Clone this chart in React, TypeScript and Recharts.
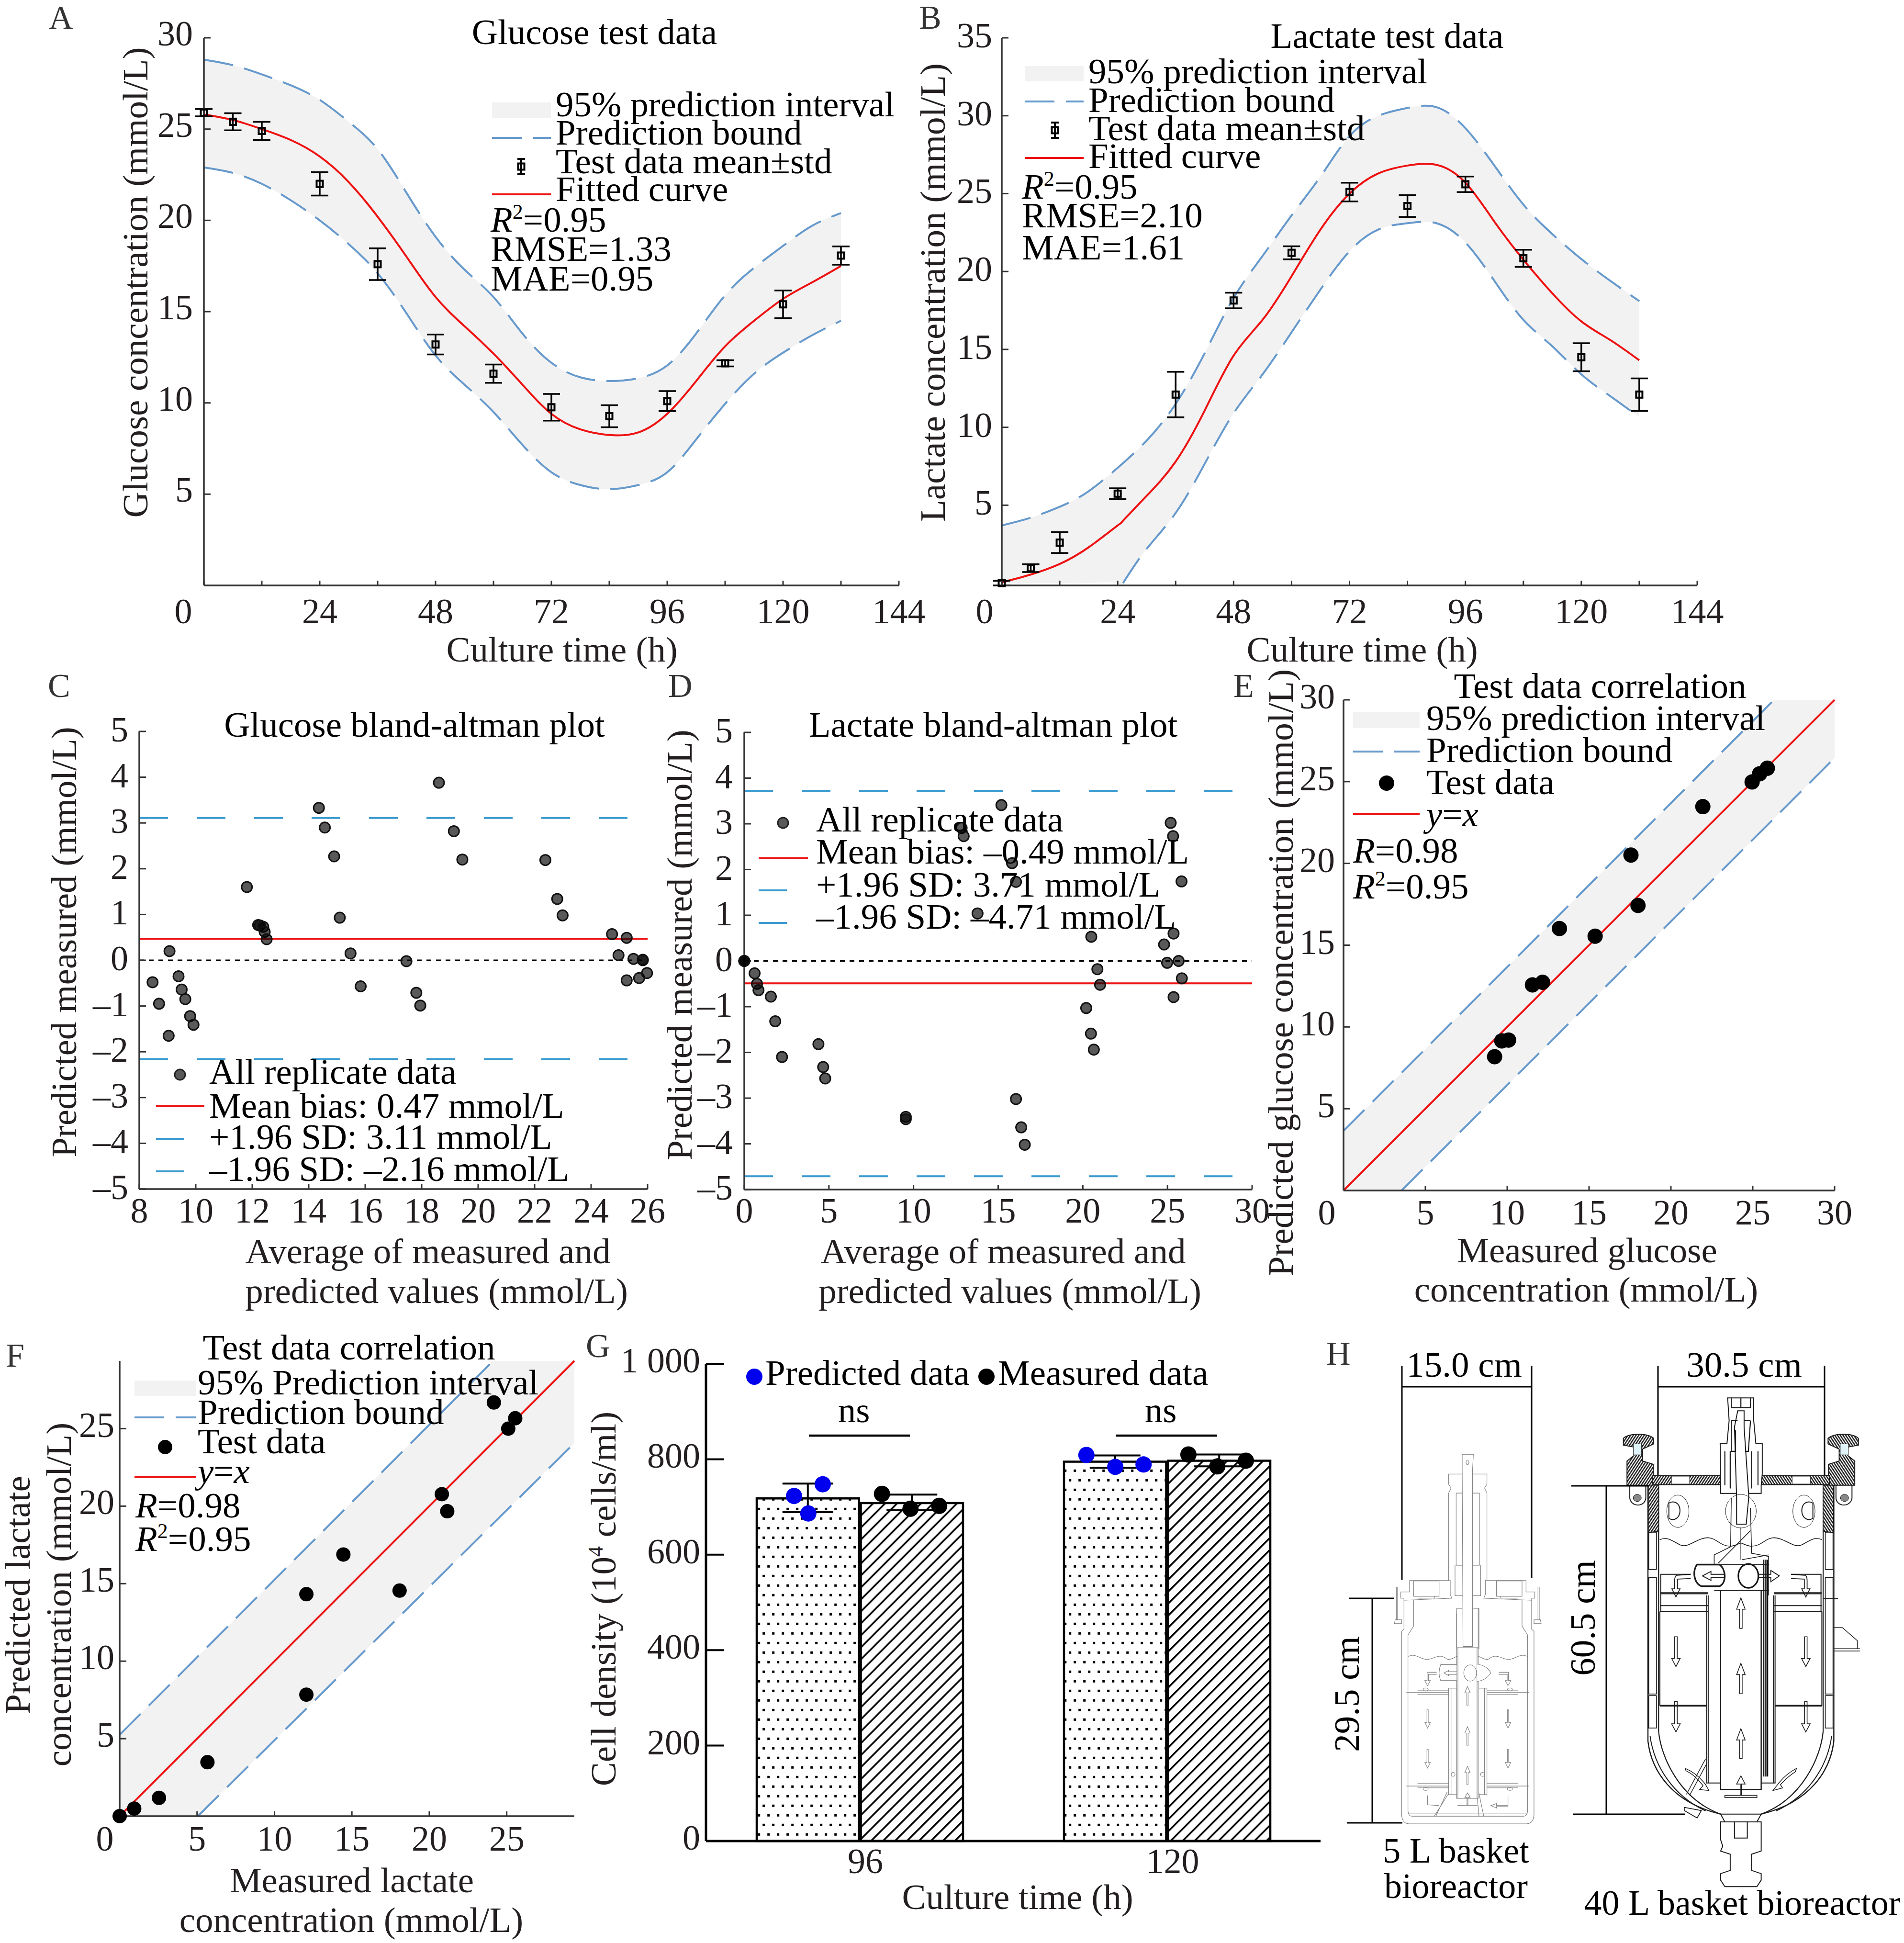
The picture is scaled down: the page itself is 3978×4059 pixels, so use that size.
import React from 'react';
import { ComposedChart, XAxis, YAxis, Area, Line, Scatter, Bar, ErrorBar, ReferenceLine } from 'recharts';

const FONT = '"Liberation Serif", "Times New Roman", serif';
const INK = '#231f20';
const BLUE = '#6699cc';
const CYAN = '#3b9bd0';
const RED = '#ee1111';
const BAND = '#f2f2f2';

/* ---------- A: glucose curve ---------- */
const curveTimes = [0, 6, 12, 18, 24, 30, 36, 42, 48, 54, 60, 66, 72, 78, 84, 90, 96, 102, 108, 114, 120, 126, 132];
const glucoseFit = [25.8, 25.5, 25.0, 24.4, 23.5, 22.1, 20.2, 18, 15.8, 14.2, 12.7, 11, 9.4, 8.55, 8.24, 8.38, 9.4, 11.2, 13.1, 14.5, 15.7, 16.6, 17.5];
const glucoseUpper = [28.8, 28.5, 28.0, 27.4, 26.6, 25.4, 23.9, 21.5, 19.1, 17.3, 15.8, 13.8, 12.2, 11.4, 11.2, 11.35, 12.05, 13.8, 15.9, 17.4, 18.6, 19.7, 20.4];
const glucoseLower = [22.9, 22.6, 22.0, 21.1, 20.0, 18.7, 17.1, 14.9, 12.6, 11, 9.5, 7.7, 6.2, 5.5, 5.27, 5.5, 6.2, 8, 9.95, 11.6, 12.75, 13.7, 14.5];
const sampleTimes = [0, 6, 12, 24, 36, 48, 60, 72, 84, 96, 108, 120, 132];
const glucoseMean = [25.9, 25.4, 24.9, 22.0, 17.6, 13.2, 11.6, 9.76, 9.27, 10.1, 12.17, 15.4, 18.07];
const glucoseStd = [0.2, 0.47, 0.5, 0.64, 0.87, 0.55, 0.5, 0.73, 0.6, 0.55, 0.17, 0.76, 0.5];

/* ---------- B: lactate curve ---------- */
const lactateTimes = [0, 6, 12, 18, 24, 25.1, 30, 36, 42, 48, 54, 60, 66, 72, 78, 84, 90, 96, 102, 108, 114, 120, 126, 132];
const lactateFit = [0.05, 0.55, 1.23, 2.3, 3.7, 4, 5.6, 7.8, 11.07, 14.6, 16.9, 19.7, 22.7, 25, 26.3, 26.8, 26.85, 25.7, 23.2, 20.76, 18.6, 16.8, 15.6, 14.3];
const lactateUpper = [3.7, 4.2, 4.9, 5.9, 7.4, 7.7, 9.15, 11.5, 14.75, 18.3, 21, 23.6, 26.1, 28.7, 30, 30.5, 30.55, 29.2, 26.8, 24.3, 22.4, 20.8, 19.4, 18.1];
const lactateLower = [null, null, null, null, null, 0, 2.2, 4.5, 7.65, 10.9, 13.4, 16.1, 18.85, 21.3, 22.7, 23.1, 23.1, 21.86, 19.4, 16.9, 15.2, 13.4, 12, 10.65];
const lactateMean = [0, 0.96, 2.6, 5.74, 12.1, 18.14, 21.2, 25.1, 24.2, 25.6, 20.85, 14.5, 12.1];
const lactateStd = [0.15, 0.25, 0.67, 0.35, 1.46, 0.5, 0.42, 0.6, 0.7, 0.5, 0.55, 0.9, 1.04];

/* ---------- C: glucose Bland-Altman ---------- */
const baGlucoseAvg = [8.47, 8.7, 9.04, 9.07, 9.39, 9.5, 9.63, 9.8, 9.92, 11.81, 12.21, 12.27, 12.39, 12.44, 12.51, 14.36, 14.57, 14.9, 15.1, 15.48, 15.84, 17.46, 17.81, 17.95, 18.61, 19.14, 19.44, 22.38, 22.8, 22.99, 24.74, 24.97, 25.26, 25.26, 25.5, 25.7, 25.83, 25.83, 25.98];
const baGlucoseDiff = [-0.48, -0.95, -1.65, 0.2, -0.35, -0.64, -0.85, -1.22, -1.41, 1.6, 0.77, 0.76, 0.73, 0.62, 0.46, 3.33, 2.9, 2.27, 0.93, 0.15, -0.57, -0.02, -0.71, -0.99, 3.88, 2.82, 2.2, 2.19, 1.34, 0.98, 0.57, 0.11, 0.49, -0.44, 0.03, -0.39, 0.01, 0, -0.28];
const baGlucoseLines = { mean: 0.47, upper: 3.11, lower: -2.16 };

/* ---------- D: lactate Bland-Altman ---------- */
const baLactateAvg = [0, 0, 0, 0.61, 0.75, 0.84, 1.57, 1.83, 2.23, 4.38, 4.66, 4.78, 9.54, 9.54, 12.84, 12.96, 13.78, 15.19, 15.82, 16.05, 16.05, 16.36, 16.57, 20.2, 20.5, 20.48, 20.65, 20.86, 21.02, 24.8, 24.98, 25.19, 25.33, 25.36, 25.36, 25.66, 25.83, 25.85];
const baLactateDiff = [0, 0, 0, -0.27, -0.5, -0.64, -0.78, -1.32, -2.1, -1.82, -2.32, -2.57, -3.41, -3.46, 2.91, 2.73, 1.04, 3.41, 2.14, 1.73, -3.02, -3.64, -4.02, -1.03, 0.53, -1.59, -1.94, -0.18, -0.52, 0.36, -0.04, 3.02, 2.73, 0.6, -0.79, 0, 1.74, -0.38];
const baLactateLines = { mean: -0.49, upper: 3.72, lower: -4.71 };

/* ---------- E and F: correlation ---------- */
const corrGlucoseX = [9.23, 9.67, 10.08, 11.54, 12.16, 13.19, 15.37, 17.56, 17.99, 21.95, 24.96, 25.42, 25.89];
const corrGlucoseY = [8.18, 9.15, 9.2, 12.57, 12.73, 16.02, 15.55, 20.51, 17.43, 23.47, 24.98, 25.48, 25.82];
const corrGlucoseGridX = [0, 3.55, 26.3, 30];
const corrGlucoseLo = [0, 0, 22.75, 26.45];
const corrGlucoseHi = [3.65, 7.2, 30, 30];
const corrGlucoseUpperBound = [3.65, 7.2, 30, null];
const corrGlucoseLowerBound = [null, 0, 22.75, 26.45];

const corrLactateX = [0, 0.94, 2.54, 5.67, 12.06, 12.06, 14.45, 18.08, 20.81, 21.16, 24.17, 25.1, 25.55];
const corrLactateY = [0, 0.49, 1.18, 3.48, 14.32, 7.84, 16.88, 14.55, 20.77, 19.67, 26.69, 25, 25.67];
const corrLactateGridX = [0, 5.05, 24.1, 29.37];
const corrLactateLo = [0, 0, 18.85, 24.07];
const corrLactateHi = [5.25, 10.3, 29.37, 29.37];
const corrLactateUpperBound = [5.25, 10.3, 29.35, null];
const corrLactateLowerBound = [null, 0, 18.85, 24.07];

/* ---------- G: bars ---------- */
const barTimes = ['96', '120'];
const barPredicted = [718, 795];
const barMeasured = [708, 797];
const barPredictedErr = [[29, 31], [13, 13]];
const barMeasuredErr = [[15, 18], [12, 13]];
const dotPredictedPos = [0.2866, 0.38, 0.333, 1.238, 1.332, 1.424];
const dotPredictedVal = [723, 747.6, 686.4, 809, 784, 789];
const dotMeasuredPos = [0.5727, 0.6656, 0.759, 1.57, 1.664, 1.757];
const dotMeasuredVal = [727.5, 696.3, 702.4, 810, 785, 797];

/* ---------- helpers ---------- */
const LEFT = 200;
const TOP = 40;
const RIGHT = 60;
const BOTTOM = 130;
const TICK_SIZE = 74;
const TEXT_SIZE = 75;

const rows = (xs: any[], cols: Record<string, any[]>) =>
  xs.map((x, i) => {
    const r: any = { x };
    Object.keys(cols).forEach((k) => (r[k] = cols[k][i]));
    return r;
  });

const makeXTick = (baseline: number, labelled: number[] | null, zeroShift = 0, dx = 0, size = TICK_SIZE) => (p: any) => {
  const v = p.payload.value;
  if (labelled && !labelled.includes(v)) return <g />;
  return (
    <text x={p.x + dx + (v === 0 ? zeroShift : 0)} y={baseline} textAnchor="middle" fontFamily={FONT} fontSize={size} fill={INK}>
      {v}
    </text>
  );
};

const makeYTick = (right: number, dy: number, fmt?: (v: number) => string, size = TICK_SIZE) => (p: any) => {
  const v = p.payload.value;
  return (
    <text x={right} y={p.y + dy} textAnchor="end" fontFamily={FONT} fontSize={size} fill={INK}>
      {fmt ? fmt(v) : String(v).replace('-', '\u2013')}
    </text>
  );
};

type G = { px: number; py: number; pw: number; ph: number };

const Frame = ({ g, children, data }: { g: G; children: any; data?: any[] }) => (
  <div style={{ position: 'absolute', left: g.px - LEFT, top: g.py - TOP }}>
    <ComposedChart
      width={g.pw + LEFT + RIGHT}
      height={g.ph + TOP + BOTTOM}
      data={data}
      margin={{ top: TOP, left: 0, right: RIGHT, bottom: 0 }}
      style={{ overflow: 'visible' }}
    >
      {children}
    </ComposedChart>
  </div>
);

const axisLine = { stroke: '#333', strokeWidth: 3.5 };
const tickLine = { stroke: '#333', strokeWidth: 3 };

const squareMark = (p: any) => (
  <rect x={p.cx - 6.5} y={p.cy - 6.5} width={13} height={13} fill="none" stroke="#000" strokeWidth={4} />
);

const T = ({ x, y, children, a = 'start', s = TEXT_SIZE, rot, c = '#000' }: any) => (
  <text
    x={x}
    y={y}
    textAnchor={a}
    fontSize={s}
    fontFamily={FONT}
    fill={c}
    transform={rot ? `rotate(${rot} ${x} ${y})` : undefined}
  >
    {children}
  </text>
);

const R2 = ({ x, y, v }: any) => (
  <T x={x} y={y}>
    <tspan fontStyle="italic">R</tspan>
    <tspan dy={-27} fontSize={44}>2</tspan>
    <tspan dy={27}>={v}</tspan>
  </T>
);

const Patch = ({ x, y, w, h }: any) => <rect x={x} y={y} width={w} height={h} fill={BAND} />;
const BoundKey = ({ x, y, w }: any) => (
  <line x1={x} x2={x + w} y1={y} y2={y} stroke={BLUE} strokeWidth={4} strokeDasharray="62 24" />
);
const RedKey = ({ x, y, w }: any) => <line x1={x} x2={x + w} y1={y} y2={y} stroke={RED} strokeWidth={4} />;
const CyanKey = ({ x, y, w }: any) => <line x1={x} x2={x + w} y1={y} y2={y} stroke={CYAN} strokeWidth={4} />;
const MeanKey = ({ x, y }: any) => (
  <g stroke="#000" strokeWidth={4} fill="none">
    <rect x={x - 6.5} y={y - 6.5} width={13} height={13} />
    <line x1={x} x2={x} y1={y - 16} y2={y + 16} />
    <line x1={x - 8} x2={x + 8} y1={y - 16} y2={y - 16} />
    <line x1={x - 8} x2={x + 8} y1={y + 16} y2={y + 16} />
  </g>
);
const DotKey = ({ x, y, r = 11 }: any) => <circle cx={x} cy={y} r={r} fill="#595959" stroke="#222" strokeWidth={3} />;

/* ---------- curve panel ---------- */
const CurvePanel = ({ g, data, mean, std, yMax, yTicks, right, dy, base, zero }: any) => (
  <Frame g={g} data={data}>
    <XAxis
      dataKey="x"
      type="number"
      domain={[0, 144]}
      ticks={[0, 12, 24, 36, 48, 60, 72, 84, 96, 108, 120, 132, 144]}
      interval={0}
      height={BOTTOM}
      axisLine={axisLine}
      tickLine={tickLine}
      tickSize={-10}
      tick={makeXTick(TOP + g.ph + base, [0, 24, 48, 72, 96, 120, 144], zero)}
    />
    <YAxis
      type="number"
      domain={[0, yMax]}
      ticks={yTicks}
      interval={0}
      width={LEFT}
      axisLine={axisLine}
      tickLine={tickLine}
      tickSize={-14}
      tick={makeYTick(right, dy)}
    />
    <Area dataKey={(d: any) => [d.lo, d.hi]} type="natural" fill={BAND} fillOpacity={1} stroke="none" isAnimationActive={false} dot={false} activeDot={false} />
    <Line dataKey="upper" type="natural" stroke={BLUE} strokeWidth={4} strokeDasharray="62 24" dot={false} isAnimationActive={false} />
    <Line dataKey="lower" type="natural" stroke={BLUE} strokeWidth={4} strokeDasharray="62 24" dot={false} isAnimationActive={false} />
    <Line dataKey="fit" type="natural" stroke={RED} strokeWidth={4} dot={false} isAnimationActive={false} />
    <Scatter data={rows(sampleTimes, { y: mean, e: std })} dataKey="y" shape={squareMark} isAnimationActive={false}>
      <ErrorBar dataKey="e" direction="y" width={18} stroke="#000" strokeWidth={3.5} isAnimationActive={false} />
    </Scatter>
  </Frame>
);

/* ---------- Bland-Altman panel ---------- */
const BAPanel = ({ g, xs, ys, lines, dom, xTicks, right, base }: any) => (
  <Frame g={g} data={[]}>
    <XAxis dataKey="x" type="number" domain={dom} ticks={xTicks} interval={0} height={BOTTOM} axisLine={axisLine} tickLine={tickLine} tickSize={-10} tick={makeXTick(TOP + g.ph + base, null)} />
    <YAxis type="number" domain={[-5, 5]} ticks={[-5, -4, -3, -2, -1, 0, 1, 2, 3, 4, 5]} interval={0} width={LEFT} axisLine={axisLine} tickLine={tickLine} tickSize={-14} tick={makeYTick(right, 21)} />
    <ReferenceLine y={0} stroke="#000" strokeWidth={3} strokeDasharray="10 10" />
    <ReferenceLine y={lines.upper} stroke={CYAN} strokeWidth={4} strokeDasharray="60 60" />
    <ReferenceLine y={lines.lower} stroke={CYAN} strokeWidth={4} strokeDasharray="60 60" />
    <ReferenceLine y={lines.mean} stroke={RED} strokeWidth={4} />
    <Scatter
      data={rows(xs, { y: ys })}
      dataKey="y"
      shape={(p: any) => <circle cx={p.cx} cy={p.cy} r={11} fill="#000" fillOpacity={0.65} stroke="#111" strokeWidth={3} />}
      isAnimationActive={false}
    />
  </Frame>
);

/* ---------- correlation panel ---------- */
const CorrPanel = ({ g, data, pts, dom, xTicks, yTicks, right, dy, base, zero, r }: any) => (
  <Frame g={g} data={data}>
    <XAxis dataKey="x" type="number" domain={dom} ticks={xTicks} interval={0} height={BOTTOM} axisLine={axisLine} tickLine={tickLine} tickSize={-10} tick={makeXTick(TOP + g.ph + base, null, zero)} />
    <YAxis type="number" domain={dom} ticks={yTicks} interval={0} width={LEFT} axisLine={axisLine} tickLine={tickLine} tickSize={-14} tick={makeYTick(right, dy)} />
    <Area dataKey={(d: any) => [d.lo, d.hi]} type="linear" fill={BAND} fillOpacity={1} stroke="none" isAnimationActive={false} dot={false} activeDot={false} />
    <Line dataKey="upper" type="linear" stroke={BLUE} strokeWidth={4} strokeDasharray="62 24" dot={false} isAnimationActive={false} />
    <Line dataKey="lower" type="linear" stroke={BLUE} strokeWidth={4} strokeDasharray="62 24" dot={false} isAnimationActive={false} />
    <Line dataKey="x" type="linear" stroke={RED} strokeWidth={4} dot={false} isAnimationActive={false} />
    <Scatter data={pts} dataKey="y" shape={(p: any) => <circle cx={p.cx} cy={p.cy} r={r} fill="#000" />} isAnimationActive={false} />
  </Frame>
);

/* ---------- geometry of the panels ---------- */
const gA: G = { px: 426, py: 79, pw: 1452, ph: 1144 };
const gB: G = { px: 2093, py: 79, pw: 1453, ph: 1144 };
const gC: G = { px: 291, py: 1528, pw: 1062, ph: 956 };
const gD: G = { px: 1555, py: 1530, pw: 1061, ph: 955 };
const gE: G = { px: 2807, py: 1462, pw: 1026, ph: 1025 };
const gF: G = { px: 250, py: 2843, pw: 950, ph: 951 };
const gG: G = { px: 1475, py: 2849, pw: 1284, ph: 997 };

/* ---------- H: the two bioreactor line drawings ---------- */
const P = ({ d, w = 1.6, c = '#1a1a1a', f = 'none' }: any) => (
  <path d={d} fill={f} stroke={c} strokeWidth={w} vectorEffect="non-scaling-stroke" />
);
const PS = ({ d, f = 'none' }: any) => <P d={d} f={f} w={1.1} c="#777" />;
const arrow = (x: number, y1: number, y2: number, sw: number, hw: number, hl: number) => {
  const dir = y2 > y1 ? 1 : -1;
  const yb = y2 - dir * hl;
  return `M${x - sw} ${y1}L${x - sw} ${yb}L${x - hw} ${yb}L${x} ${y2}L${x + hw} ${yb}L${x + sw} ${yb}L${x + sw} ${y1}Z`;
};

const BigHalf = () => (
  <g>
    <P d="M295 155C320 138 410 138 437 155L437 172L385 188L385 225L435 235L435 300L312 300L312 225L345 208L345 182L295 176Z" f="url(#fineHatch)" w={2} />
    <rect x={342} y={172} width={38} height={34} fill="#dff2f7" stroke="#222" vectorEffect="non-scaling-stroke" />
    <P d="M325 300L325 340C332 368 395 368 400 340L400 300" w={2} />
    <ellipse cx={360} cy={339} rx={19} ry={11} fill="#888" stroke="#111" vectorEffect="non-scaling-stroke" />
    <P d="M410 300L410 1090C425 1180 520 1280 750 1316" w={2.4} />
    <P d="M460 300L460 1060C470 1140 560 1270 750 1316" w={2.2} />
    <P d="M420 1075C440 1170 530 1260 680 1306" w={2} />
    <P d="M412 300L460 300L460 442L412 446Z" f="url(#fineHatch)" w={1.5} />
    <P d="M414 445L450 445L450 560L414 560ZM414 585L450 585L450 945L414 945ZM414 950L450 950L450 1050L414 1050Z" />
    <P d="M430 270L750 270L750 298L430 298Z" f="url(#fineHatch)" w={2} />
    <rect x={520} y={272} width={85} height={24} fill="#fff" stroke="#222" vectorEffect="non-scaling-stroke" />
    <ellipse cx={550} cy={380} rx={52} ry={50} fill="none" stroke="#222" vectorEffect="non-scaling-stroke" />
    <P d="M508 355L508 402C530 412 560 402 560 378C560 354 530 346 508 355Z" w={2} />
    <P d="M465 468C500 458 520 470 560 484C600 496 640 462 690 462C730 462 750 490 800 488C820 486 835 480 845 478" w={1.6} />
    <P d="M610 575L470 575L470 690M466 632L690 632M466 672L690 672M466 690L690 690" w={2} />
    <P d="M466 634L690 634" w={3.5} c="#333" />
    <P d="M466 690L466 980L685 980M466 982L685 982" w={2} />
    <P d="M685 640L685 1220L750 1220M692 640L692 1220" w={2} />
    <P d={arrow(541, 768, 860, 6, 20, 25)} />
    <P d={arrow(541, 968, 1062, 6, 20, 25)} />
    <P d="M610 575L545 578Q535 580 535 595L535 620L522 620L541 645L560 620L548 620L548 590L610 588" w={1.8} />
  </g>
);

const BigReactor = () => (
  <g transform="translate(3260,2900) scale(0.4464,0.6761)">
    <BigHalf />
    <g transform="matrix(-1 0 0 1 1690 0)">
      <BigHalf />
    </g>
    <P d="M783 30L905 30L905 100L915 170L945 170L945 265L940 300L940 325L750 325L750 265L748 170L780 170L790 100Z" w={2} f="#fff" />
    <P d="M830 70L860 70L860 120L882 335L870 420L825 420L825 340L815 120Z" w={2} f="#fff" />
    <P d="M800 30L800 60L890 60L890 30M845 30L845 60M800 100L830 100M860 100L890 100M800 100L800 195L820 195L820 130M890 100L880 195L865 195M770 195L770 300M795 195L795 310M895 195L895 310M925 195L925 300" w={2.2} />
    <ellipse cx={845} cy={380} rx={72} ry={52} fill="none" stroke="#222" vectorEffect="non-scaling-stroke" />
    <P d="M845 430L845 530M890 370L895 510L975 520L975 640M850 530L975 515M800 340L797 490L720 515L720 545M890 440L740 540" w={1.6} />
    <P d="M640 545L745 545C775 560 780 600 745 612L660 612C620 600 620 560 640 545Z" w={3.4} f="#fff" />
    <ellipse cx={880} cy={580} rx={47} ry={37} fill="#fff" stroke="#111" strokeWidth={3.2} vectorEffect="non-scaling-stroke" />
    <P d="M770 575L705 575L705 566L665 580L705 594L705 585L770 585Z" w={1.8} />
    <P d="M925 575L985 575L985 563L1025 580L985 598L985 585L925 585Z" w={1.8} />
    <P d="M720 545L975 545M720 625L975 625" />
    <P d="M750 625L750 1240L940 1240L940 625" w={2.4} />
    <P d="M952 530L952 1200M962 530L962 1200M970 530L970 1200" w={2.6} />
    <P d={arrow(845, 742, 648, 6, 20, 35)} />
    <P d={arrow(845, 944, 850, 6, 20, 35)} />
    <P d={arrow(845, 1144, 1052, 6, 20, 35)} />
    <P d={arrow(845, 1258, 1198, 3, 20, 25)} />
    <P d="M770 1258L920 1258L920 1265L770 1265Z" />
    <P d="M585 1175Q640 1190 680 1225L695 1243L652 1240L668 1228Q630 1195 588 1182ZM680 1145L590 1255M685 1160L605 1258M1105 1175Q1060 1190 1025 1218L995 1243L1040 1235L1030 1225Q1065 1200 1100 1185Z" w={1.5} />
    <P d="M750 1316L770 1340L920 1340L940 1316L750 1316M750 1340L750 1395L760 1415L750 1430L795 1440L795 1490L750 1500L750 1520L770 1540L920 1540L940 1520L940 1500L895 1490L895 1440L940 1430L940 1340ZM815 1340L815 1390L875 1390L875 1340" w={2} />
    <P d="M1280 740L1320 740L1390 780L1390 805M1280 805L1402 805M1280 812L1402 812M1232 650L1300 650" w={1.4} />
    <P d="M580 1295L660 1305L640 1328L580 1305Z" w={1.8} />
  </g>
);

const SmallHalf = () => (
  <g>
    <PS d="M800 1530L430 1530Q385 1528 385 1490L385 770L400 762L400 640L380 640L380 615L435 615L435 570L690 570L690 625L700 640L400 648" />
    <PS d="M460 648L460 750L425 785L425 1480Q428 1500 450 1500L800 1500M425 1488L800 1488" />
    <PS d="M345 725L385 725L385 740L340 740ZM352 595L352 725M360 595L360 725" />
    <PS d="M460 572L620 572L620 632L460 632ZM488 632L593 632L593 640L488 640" />
    <PS d="M680 570L680 225L695 205L680 190L680 150L770 150M727 225L727 510L770 510M727 225L770 225M720 510L720 630L770 630" />
    <PS d="M730 680L765 680M730 680L730 840" />
    <PS d="M425 870C470 855 500 880 545 882C590 880 620 855 670 880C700 885 720 870 738 868" />
    <PS d="M680 995L680 1415L730 1415M695 995L695 1415M680 995L730 995" />
    <PS d="M415 1012L680 1012M485 1005L680 1005M485 1020L680 1020M415 1381L680 1381M485 1370L680 1370M485 1388L680 1388" />
    <ellipse cx={536} cy={1000} rx={16} ry={6} fill="none" stroke="#777" strokeWidth={1.1} vectorEffect="non-scaling-stroke" />
    <ellipse cx={536} cy={1392} rx={16} ry={6} fill="none" stroke="#777" strokeWidth={1.1} vectorEffect="non-scaling-stroke" />
    <ellipse cx={708} cy={1335} rx={12} ry={8} fill="none" stroke="#777" strokeWidth={1.1} vectorEffect="non-scaling-stroke" />
    <PS d={arrow(548, 1080, 1152, 4, 17, 22)} />
    <PS d={arrow(548, 1237, 1310, 4, 17, 22)} />
    <PS d="M605 932L545 932L545 965L530 965L548 985L565 965L553 965L553 940L605 940" />
  </g>
);

const SmallReactor = () => (
  <g transform="translate(2800,3000) scale(0.3333,0.5294)">
    <SmallHalf />
    <g transform="matrix(-1 0 0 1 1600 0)">
      <SmallHalf />
    </g>
    <PS d="M765 72L835 72L830 130L830 830L770 830L765 130Z" f="#fff" />
    <circle cx={798} cy={104} r={9} fill="none" stroke="#777" strokeWidth={1.1} vectorEffect="non-scaling-stroke" />
    <PS d="M730 835L865 835L865 1430L730 1430ZM738 835L738 1430M858 835L858 1430M730 700L730 835M865 680L865 835" />
    <PS d="M730 902L630 902Q610 935 630 965L730 965" f="#fff" />
    <ellipse cx={815} cy={935} rx={40} ry={32} fill="#fff" stroke="#777" strokeWidth={1.1} vectorEffect="non-scaling-stroke" />
    <PS d="M858 900Q920 905 945 935Q910 965 858 968" f="#fff" />
    <PS d="M730 930L680 930L680 925L650 935L680 945L680 940L730 940" />
    <PS d={arrow(798, 1062, 988, 4, 17, 25)} />
    <PS d={arrow(798, 1220, 1147, 4, 17, 25)} />
    <PS d={arrow(798, 1375, 1303, 4, 17, 25)} />
    <PS d={arrow(798, 1455, 1408, 3, 17, 18)} />
    <PS d="M735 1458L860 1458M548 1418L548 1455L620 1458M680 1410L590 1500M670 1405L600 1500M860 1430L870 1500M870 1410L900 1500M1052 1418L1052 1458L980 1458L980 1450L945 1458L980 1468L980 1462L1052 1462" />
  </g>
);

const Dim = ({ x1, y1, x2, y2, w = 3.5 }: any) => <line x1={x1} y1={y1} x2={x2} y2={y2} stroke="#000" strokeWidth={w} />;

export default function App() {
  const dataA = rows(curveTimes, { fit: glucoseFit, upper: glucoseUpper, lower: glucoseLower, lo: glucoseLower, hi: glucoseUpper });
  const dataB = rows(lactateTimes, {
    fit: lactateFit,
    upper: lactateUpper,
    lower: lactateLower,
    lo: lactateLower.map((v) => (v === null ? 0 : v)),
    hi: lactateUpper,
  });
  const dataE = rows(corrGlucoseGridX, { lo: corrGlucoseLo, hi: corrGlucoseHi, upper: corrGlucoseUpperBound, lower: corrGlucoseLowerBound });
  const dataF = rows(corrLactateGridX, { lo: corrLactateLo, hi: corrLactateHi, upper: corrLactateUpperBound, lower: corrLactateLowerBound });
  const dataG = barTimes.map((time, i) => ({
    time,
    predicted: barPredicted[i],
    measured: barMeasured[i],
    predErr: barPredictedErr[i],
    measErr: barMeasuredErr[i],
  }));

  return (
    <div style={{ position: 'absolute', left: 0, top: 0, width: 3978, height: 4059, background: '#fff', overflow: 'hidden' }}>
      <CurvePanel g={gA} data={dataA} mean={glucoseMean} std={glucoseStd} yMax={30} yTicks={[5, 10, 15, 20, 25, 30]} right={LEFT - 23} dy={16} base={79} zero={-43} />
      <CurvePanel g={gB} data={dataB} mean={lactateMean} std={lactateStd} yMax={35} yTicks={[5, 10, 15, 20, 25, 30, 35]} right={LEFT - 20} dy={20} base={79} zero={-36} />
      <BAPanel g={gC} xs={baGlucoseAvg} ys={baGlucoseDiff} lines={baGlucoseLines} dom={[8, 26]} xTicks={[8, 10, 12, 14, 16, 18, 20, 22, 24, 26]} right={LEFT - 23} base={70} />
      <BAPanel g={gD} xs={baLactateAvg} ys={baLactateDiff} lines={baLactateLines} dom={[0, 30]} xTicks={[0, 5, 10, 15, 20, 25, 30]} right={LEFT - 24} base={69} />
      <CorrPanel g={gE} data={dataE} pts={rows(corrGlucoseX, { y: corrGlucoseY })} dom={[0, 30]} xTicks={[0, 5, 10, 15, 20, 25, 30]} yTicks={[5, 10, 15, 20, 25, 30]} right={LEFT - 18} dy={18} base={71} zero={-35} r={16} />
      <CorrPanel g={gF} data={dataF} pts={rows(corrLactateX, { y: corrLactateY })} dom={[0, 29.37]} xTicks={[0, 5, 10, 15, 20, 25]} yTicks={[5, 10, 15, 20, 25]} right={LEFT - 11} dy={17} base={72} zero={-31} r={15} />

      <Frame g={gG} data={dataG}>
        <defs>
          <pattern id="dotFill" patternUnits="userSpaceOnUse" width={20} height={40} x={18.2} y={0.8}>
            <rect width={20} height={40} fill="#fff" />
            <rect x={0} y={0} width={5} height={5} fill="#000" />
            <rect x={10} y={20} width={5} height={5} fill="#000" />
          </pattern>
          <pattern id="hatchFill" patternUnits="userSpaceOnUse" width={17.7} height={17.7} x={1.5} patternTransform="rotate(45)">
            <rect width={17.7} height={17.7} fill="#fff" />
            <rect x={0} y={0} width={3.6} height={17.7} fill="#000" />
          </pattern>
        </defs>
        <XAxis dataKey="time" type="category" height={BOTTOM} axisLine={{ stroke: '#000', strokeWidth: 5 }} tickLine={false} tick={makeXTick(TOP + gG.ph + 67, null, 0, 12)} />
        <XAxis xAxisId="pos" dataKey="x" type="number" domain={[0, 2]} hide />
        <YAxis
          type="number"
          domain={[0, 1000]}
          ticks={[0, 200, 400, 600, 800, 1000]}
          interval={0}
          width={LEFT}
          axisLine={{ stroke: '#000', strokeWidth: 5 }}
          tickLine={{ stroke: '#000', strokeWidth: 4 }}
          tickSize={-38}
          tick={makeYTick(LEFT - 12, 18, (v) => (v === 1000 ? '1 000' : String(v)))}
        />
        <Bar dataKey="predicted" barSize={213.5} fill="url(#dotFill)" stroke="#000" strokeWidth={4.5} isAnimationActive={false}>
          <ErrorBar dataKey="predErr" direction="y" width={53} stroke="#000" strokeWidth={4} isAnimationActive={false} />
        </Bar>
        <Bar dataKey="measured" barSize={213.5} fill="url(#hatchFill)" stroke="#000" strokeWidth={4.5} isAnimationActive={false}>
          <ErrorBar dataKey="measErr" direction="y" width={53} stroke="#000" strokeWidth={4} isAnimationActive={false} />
        </Bar>
        <Scatter xAxisId="pos" data={rows(dotPredictedPos, { y: dotPredictedVal })} dataKey="y" shape={(p: any) => <circle cx={p.cx} cy={p.cy} r={17} fill="#0000ee" />} isAnimationActive={false} />
        <Scatter xAxisId="pos" data={rows(dotMeasuredPos, { y: dotMeasuredVal })} dataKey="y" shape={(p: any) => <circle cx={p.cx} cy={p.cy} r={17} fill="#000" />} isAnimationActive={false} />
      </Frame>

      <svg width={3978} height={4059} style={{ position: 'absolute', left: 0, top: 0, pointerEvents: 'none' }}>
        <defs>
          <pattern id="fineHatch" patternUnits="userSpaceOnUse" width={9} height={9} patternTransform="rotate(45)">
            <rect width={9} height={9} fill="#fff" />
            <rect width={5} height={9} fill="#222" />
          </pattern>
        </defs>

        {/* panel letters */}
        <T x={102} y={60} s={70} c="#333">A</T>
        <T x={1920} y={60} s={70} c="#333">B</T>
        <T x={100} y={1456} s={70} c="#333">C</T>
        <T x={1396} y={1456} s={70} c="#333">D</T>
        <T x={2577} y={1456} s={70} c="#333">E</T>
        <T x={12} y={2855} s={70} c="#333">F</T>
        <T x={1224} y={2835} s={70} c="#333">G</T>
        <T x={2771} y={2851} s={70} c="#333">H</T>

        {/* A */}
        <T x={1242} y={92} a="middle">Glucose test data</T>
        <Patch x={1028} y={214} w={123} h={32} />
        <BoundKey x={1028} y={288} w={123} />
        <MeanKey x={1089} y={348} />
        <RedKey x={1028} y={406} w={123} />
        <T x={1161} y={243}>95% prediction interval</T>
        <T x={1161} y={302}>Prediction bound</T>
        <T x={1161} y={362}>Test data mean±std</T>
        <T x={1161} y={420}>Fitted curve</T>
        <R2 x={1025} y={484} v="0.95" />
        <T x={1025} y={545}>RMSE=1.33</T>
        <T x={1025} y={607}>MAE=0.95</T>
        <T x={1174} y={1382} a="middle" c={INK}>Culture time (h)</T>
        <T x={308} y={590} a="middle" rot={-90} c={INK}>Glucose concentration (mmol/L)</T>

        {/* B */}
        <T x={2898} y={100} a="middle">Lactate test data</T>
        <Patch x={2141} y={138} w={123} h={32} />
        <BoundKey x={2141} y={212} w={123} />
        <MeanKey x={2204} y={272} />
        <RedKey x={2141} y={330} w={123} />
        <T x={2274} y={174}>95% prediction interval</T>
        <T x={2274} y={234}>Prediction bound</T>
        <T x={2274} y={293}>Test data mean±std</T>
        <T x={2274} y={351}>Fitted curve</T>
        <R2 x={2135} y={415} v="0.95" />
        <T x={2135} y={475}>RMSE=2.10</T>
        <T x={2135} y={542}>MAE=1.61</T>
        <T x={2846} y={1382} a="middle" c={INK}>Culture time (h)</T>
        <T x={1974} y={611} a="middle" rot={-90} c={INK}>Lactate concentration (mmol/L)</T>

        {/* C */}
        <T x={866} y={1539} a="middle">Glucose bland-altman plot</T>
        <DotKey x={376} y={2245} />
        <RedKey x={326} y={2311} w={101} />
        <CyanKey x={326} y={2379} w={58} />
        <CyanKey x={326} y={2447} w={58} />
        <T x={437} y={2264}>All replicate data</T>
        <T x={437} y={2335}>Mean bias: 0.47 mmol/L</T>
        <T x={437} y={2400}>+1.96 SD: 3.11 mmol/L</T>
        <T x={437} y={2467}>–1.96 SD: –2.16 mmol/L</T>
        <T x={894} y={2639} a="middle" c={INK}>Average of measured and</T>
        <T x={912} y={2722} a="middle" c={INK}>predicted values (mmol/L)</T>
        <T x={159} y={1968} a="middle" rot={-90} c={INK}>Predicted measured (mmol/L)</T>

        {/* D */}
        <T x={2075} y={1539} a="middle">Lactate bland-altman plot</T>
        <DotKey x={1636} y={1719} />
        <RedKey x={1585} y={1793} w={103} />
        <CyanKey x={1585} y={1860} w={59} />
        <CyanKey x={1585} y={1928} w={59} />
        <T x={1705} y={1737}>All replicate data</T>
        <T x={1705} y={1804}>Mean bias: –0.49 mmol/L</T>
        <T x={1705} y={1873}>+1.96 SD: 3.71 mmol/L</T>
        <T x={1705} y={1940}>–1.96 SD: –4.71 mmol/L</T>
        <T x={2096} y={2639} a="middle" c={INK}>Average of measured and</T>
        <T x={2110} y={2722} a="middle" c={INK}>predicted values (mmol/L)</T>
        <T x={1445} y={1974} a="middle" rot={-90} c={INK}>Predicted measured (mmol/L)</T>

        {/* E */}
        <T x={3343} y={1458} a="middle">Test data correlation</T>
        <Patch x={2827} y={1487} w={139} h={34} />
        <BoundKey x={2827} y={1570} w={139} />
        <circle cx={2897} cy={1636} r={16} fill="#000" />
        <RedKey x={2827} y={1700} w={139} />
        <T x={2980} y={1525}>95% prediction interval</T>
        <T x={2980} y={1592}>Prediction bound</T>
        <T x={2980} y={1659}>Test data</T>
        <T x={2980} y={1726}><tspan fontStyle="italic">y</tspan>=<tspan fontStyle="italic">x</tspan></T>
        <T x={2827} y={1802}><tspan fontStyle="italic">R</tspan>=0.98</T>
        <R2 x={2827} y={1877} v="0.95" />
        <T x={3316} y={2637} a="middle" c={INK}>Measured glucose</T>
        <T x={3314} y={2719} a="middle" c={INK}>concentration (mmol/L)</T>
        <T x={2701} y={2032} a="middle" rot={-90} c={INK}>Predicted glucose concentration (mmol/L)</T>

        {/* F */}
        <T x={729} y={2840} a="middle">Test data correlation</T>
        <Patch x={281} y={2884} w={128} h={33} />
        <BoundKey x={281} y={2961} w={128} />
        <circle cx={345} cy={3023} r={15} fill="#000" />
        <RedKey x={281} y={3085} w={128} />
        <T x={413} y={2913}>95% Prediction interval</T>
        <T x={413} y={2975}>Prediction bound</T>
        <T x={413} y={3036}>Test data</T>
        <T x={413} y={3098}><tspan fontStyle="italic">y</tspan>=<tspan fontStyle="italic">x</tspan></T>
        <T x={283} y={3170}><tspan fontStyle="italic">R</tspan>=0.98</T>
        <R2 x={283} y={3240} v="0.95" />
        <T x={735} y={3953} a="middle" c={INK}>Measured lactate</T>
        <T x={734} y={4036} a="middle" c={INK}>concentration (mmol/L)</T>
        <T x={62} y={3332} a="middle" rot={-90} c={INK}>Predicted lactate</T>
        <T x={148} y={3331} a="middle" rot={-90} c={INK}>concentration (mmol/L)</T>

        {/* G */}
        <circle cx={1576} cy={2876} r={17} fill="#0000ee" />
        <T x={1599} y={2893}>Predicted data</T>
        <circle cx={2061} cy={2876} r={17} fill="#000" />
        <T x={2085} y={2893}>Measured data</T>
        <T x={1784} y={2971} a="middle">ns</T>
        <T x={2425} y={2971} a="middle">ns</T>
        <Dim x1={1690} x2={1901} y1={2999} y2={2999} w={4.5} />
        <Dim x1={2331} x2={2543} y1={2999} y2={2999} w={4.5} />
        <T x={2126} y={3988} a="middle" c={INK}>Culture time (h)</T>
        <T x={1286} y={3340} a="middle" rot={-90} c={INK}>
          Cell density (10<tspan dy={-27} fontSize={44}>4</tspan><tspan dy={27}> cells/ml)</tspan>
        </T>

        {/* H */}
        <SmallReactor />
        <BigReactor />
        <Dim x1={2929} x2={2929} y1={2853} y2={3300} w={3} />
        <Dim x1={3200} x2={3200} y1={2853} y2={3296} w={3} />
        <Dim x1={2929} x2={3200} y1={2897} y2={2897} w={3} />
        <Dim x1={2818} x2={2913} y1={3339} y2={3339} w={3} />
        <Dim x1={2814} x2={2930} y1={3808} y2={3808} w={3} />
        <Dim x1={2867} x2={2867} y1={3339} y2={3808} w={3} />
        <Dim x1={3464} x2={3464} y1={2853} y2={3082} w={3} />
        <Dim x1={3812} x2={3812} y1={2853} y2={3082} w={3} />
        <Dim x1={3464} x2={3812} y1={2897} y2={2897} w={3} />
        <Dim x1={3283} x2={3443} y1={3104} y2={3104} w={3} />
        <Dim x1={3287} x2={3520} y1={3790} y2={3790} w={3} />
        <Dim x1={3356} x2={3356} y1={3104} y2={3790} w={3} />
        <T x={3059} y={2876} a="middle">15.0 cm</T>
        <T x={3644} y={2876} a="middle">30.5 cm</T>
        <T x={2839} y={3539} a="middle" rot={-90}>29.5 cm</T>
        <T x={3332} y={3380} a="middle" rot={-90}>60.5 cm</T>
        <T x={3042} y={3891} a="middle" s={74}>5 L basket</T>
        <T x={3042} y={3965} a="middle" s={74}>bioreactor</T>
        <T x={3640} y={4000} a="middle" s={74}>40 L basket bioreactor</T>
      </svg>
    </div>
  );
}
